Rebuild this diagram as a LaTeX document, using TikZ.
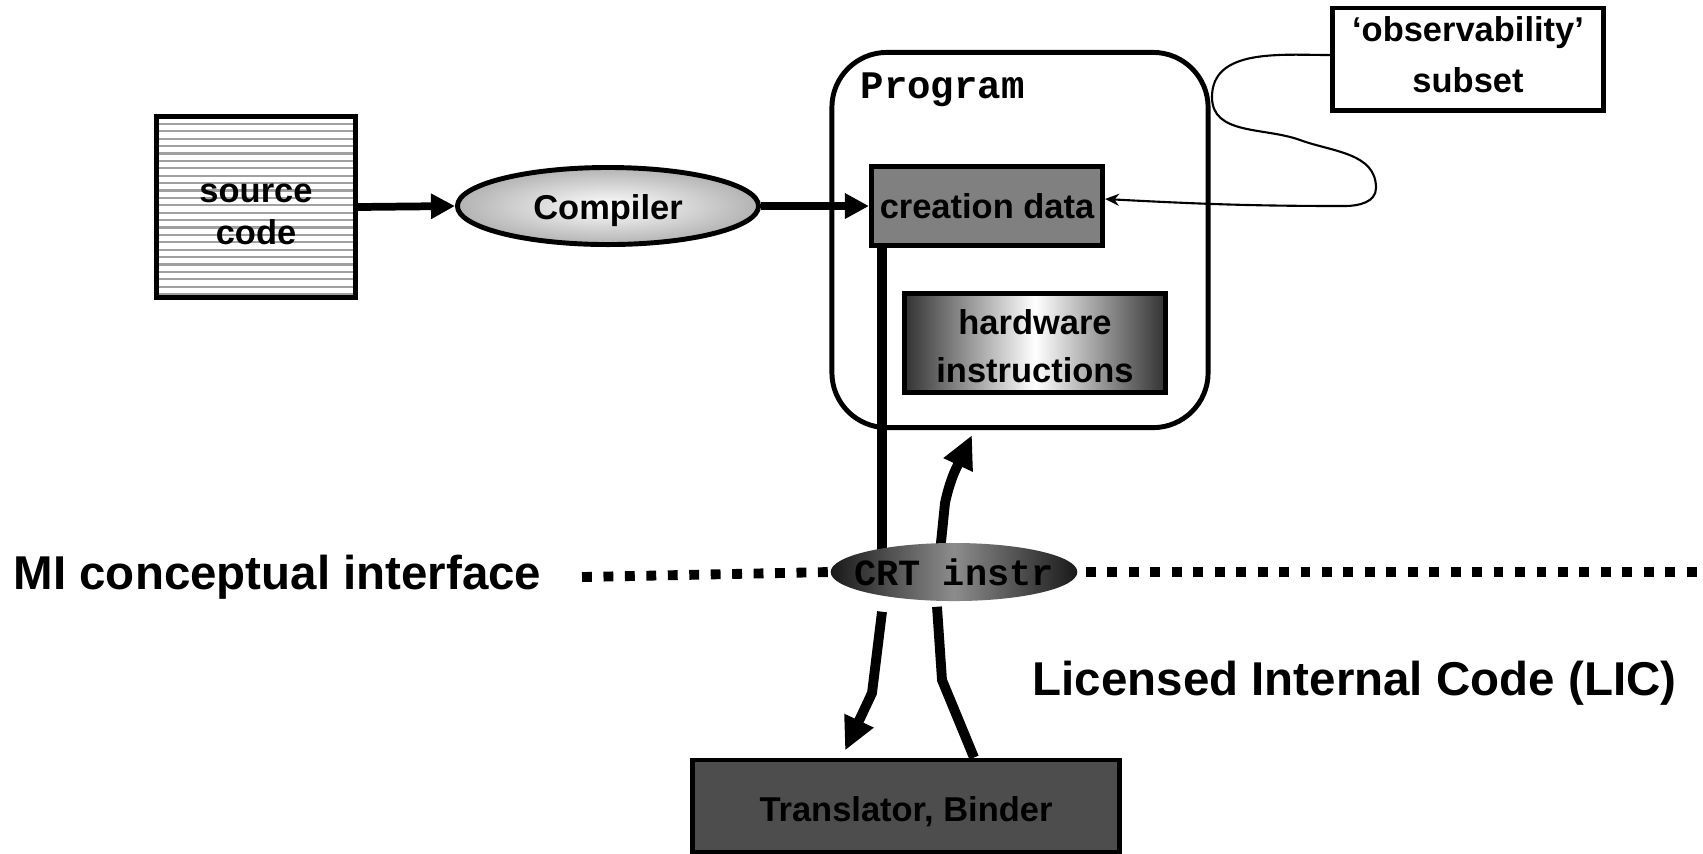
\documentclass[tikz,border=0pt]{standalone}
\usepackage{fontspec}
\setmainfont{Liberation Sans}
\setmonofont{Liberation Mono}
\usetikzlibrary{positioning,arrows.meta,calc,shapes.geometric,backgrounds}
\definecolor{stripegray}{HTML}{A0A0A0}
\definecolor{datagray}{HTML}{808080}
\definecolor{lowgray}{HTML}{4D4D4D}
\tikzset{
    every node/.style={font=\bfseries\fontsize{9.8}{11.7}\selectfont},
    box/.style={draw,line width=1.4pt,inner sep=0pt,align=center},
    srcbox/.style={box,fill=white,path picture={
        \foreach \k in {1,...,24}
          \draw[stripegray,line width=0.6pt] ($(path picture bounding box.north west)+(0,-\k*7.4)$) -- ++(300,0);}},
    comp/.style={ellipse,draw,line width=1.4pt,inner color=white,outer color=gray!60,inner sep=0pt},
    crtell/.style={ellipse,inner ysep=0pt,inner xsep=-0.125cm,left color=black!90,right color=black!90,middle color=black!45,
        font=\ttfamily\bfseries\fontsize{10.5}{12}\selectfont},
    biglabel/.style={inner sep=0pt,font=\bfseries\fontsize{13.5}{16}\selectfont},
    bigarrow/.style={line width=2.2pt,-{Triangle[length=0.24cm,width=0.24cm]}},
    crtarrow/.style={line width=2.8pt,-{Triangle[length=0.33cm,width=0.3cm]}},
    thickline/.style={line width=2.8pt},
    dots/.style={line width=2.8pt,dash pattern=on 2.8pt off 3.3pt},
    thinarrow/.style={line width=0.6pt,-{Stealth[length=0.14cm,width=0.12cm]}}
}
\begin{document}
\begin{tikzpicture}[x=0.01cm,y=0.01cm]
\useasboundingbox (0,0) rectangle (1703,-853);

\node[srcbox,minimum width=1.98cm,minimum height=1.81cm] (source) at (256,-207) {\rule{0pt}{9.5pt}source\\code};
\node[comp,minimum width=3.01cm,minimum height=0.77cm,text height=0.98em,text depth=0.21em] (compiler) at (608,-206) {Compiler};
\node[box,rounded corners=0.55cm,minimum width=3.76cm,minimum height=3.75cm] (program) at (1020,-240) {};
\node[anchor=west,inner sep=0pt,font=\ttfamily\bfseries\fontsize{11.1}{13}\selectfont] (proglabel) at (860,-90) {Program};
\node[box,fill=datagray,minimum width=2.31cm,minimum height=0.79cm] (creation) at (987,-206) {creation data};
\node[box,left color=black!80,right color=black!80,middle color=white,minimum width=2.6cm,minimum height=0.99cm,
      font=\bfseries\fontsize{9.8}{13.6}\selectfont] (hardware) at (1035,-343) {\rule{0pt}{9pt}hardware\\instructions};
\node[box,minimum width=2.71cm,minimum height=1.02cm,font=\bfseries\fontsize{9.8}{14.5}\selectfont] (obs) at (1468,-59)
      {‘observability’\\subset\rule[-2.3pt]{0pt}{0pt}};
\node[crtell,minimum width=2.46cm,minimum height=0.58cm] (crt) at (954,-572) {CRT instr};
\node[box,fill=lowgray,minimum width=4.26cm,minimum height=0.92cm,text height=1.0em,text depth=0.13em] (translator) at (906,-806) {Translator, Binder};
\node[biglabel,anchor=west] (mi) at (13,-577) {MI conceptual interface};
\node[biglabel,anchor=west] (lic) at (1032,-683) {Licensed Internal Code (LIC)};
\coordinate (lineend) at (1703,-572);

\draw[bigarrow] (source.east) -- (compiler.west);
\draw[bigarrow] (compiler.east) -- (creation.west);
\draw[thinarrow] ($(obs.west)+(0,4)$) to[out=180,in=90] (1212,-97) to[out=-90,in=160] (1300,-140)
    to[out=-20,in=90] (1376,-188) to[out=-90,in=0] (1345,-206) to[out=180,in=-3] ($(creation.east)+(0,7)$);

\begin{scope}[on background layer]
\draw[thickline] ($(creation.south west)+(13,0)$) coordinate (drop) -- (drop |- crt.center);
\draw[crtarrow] ($(crt.north)+(-14,-10)$) -- (945,-503) to[out=78,in=-115] ($(program.south)+(-48,-5)$);
\end{scope}
\draw[crtarrow] ($(crt.south)+(-72,-10)$) -- (872,-693) -- ($(translator.north)+(-61,7)$);
\draw[thickline] ($(translator.north)+(68,0)$) -- (942,-680) -- ($(crt.south)+(-17,-5)$);

\draw[dots] ($(mi.east)+(40,0)$) -- (crt.west);
\draw[dots] ($(crt.east)+(8,0)$) -- (lineend);
\end{tikzpicture}
\end{document}
